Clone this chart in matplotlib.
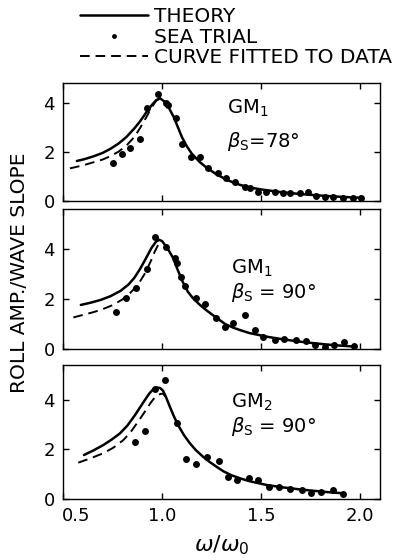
import matplotlib
matplotlib.use("Agg")
import matplotlib.pyplot as plt
import matplotlib.transforms as mtransforms

plt.rcParams['font.family'] = ['DejaVu Sans']
plt.rcParams['mathtext.fontset'] = 'dejavusans'

# ---------------- data ----------------
# Panel 1: GM1, beta_s = 78 deg
p1_theory_x = [0.57, 0.61, 0.65, 0.70, 0.74, 0.78, 0.82, 0.86, 0.89, 0.92, 0.95, 0.97, 0.99, 1.01, 1.035, 1.06, 1.08,
               1.10, 1.125, 1.15, 1.19, 1.22, 1.27, 1.32, 1.36, 1.40, 1.45, 1.50, 1.60, 1.70, 1.80, 1.90, 2.00]
p1_theory_y = [1.62, 1.70, 1.80, 1.95, 2.12, 2.33, 2.60, 2.95, 3.25, 3.60, 3.92, 4.10, 4.18, 4.06, 3.78, 3.40, 3.00,
               2.60, 2.22, 1.92, 1.58, 1.38, 1.10, 0.88, 0.74, 0.63, 0.53, 0.46, 0.35, 0.27, 0.21, 0.16, 0.12]
p1_fit_x = [0.535, 0.60, 0.65, 0.70, 0.74, 0.78, 0.82, 0.86, 0.89, 0.92, 0.945, 0.97, 0.99, 1.01]
p1_fit_y = [1.32, 1.44, 1.56, 1.68, 1.82, 2.00, 2.25, 2.60, 2.98, 3.40, 3.78, 4.08, 4.18, 4.06]
p1_sea_x = [0.75, 0.796, 0.838, 0.888, 0.925, 0.977, 1.02, 1.03, 1.07, 1.10, 1.148, 1.19, 1.232, 1.282, 1.325,
            1.367, 1.417, 1.442, 1.484, 1.526, 1.568, 1.61, 1.644, 1.694, 1.736, 1.778, 1.82, 1.862, 1.912, 1.962, 2.005]
p1_sea_y = [1.53, 1.91, 2.14, 2.5, 3.79, 4.36, 4.0, 3.9, 3.36, 2.31, 1.8, 1.77, 1.32, 1.12, 0.91,
            0.78, 0.57, 0.51, 0.37, 0.37, 0.34, 0.33, 0.3, 0.3, 0.37, 0.19, 0.16, 0.16, 0.13, 0.13, 0.13]

# Panel 2: GM1, beta_s = 90 deg
p2_theory_x = [0.59, 0.64, 0.69, 0.74, 0.79, 0.83, 0.86, 0.89, 0.92, 0.947, 0.97, 0.985, 1.0, 1.03, 1.056, 1.08,
               1.106, 1.13, 1.156, 1.19, 1.22, 1.274, 1.32, 1.36, 1.40, 1.44, 1.53, 1.60, 1.69, 1.78, 1.86, 1.98]
p2_theory_y = [1.77, 1.86, 1.97, 2.12, 2.33, 2.58, 2.85, 3.22, 3.65, 4.05, 4.30, 4.37, 4.32, 4.00, 3.64, 3.15,
               2.66, 2.30, 2.04, 1.78, 1.58, 1.26, 1.00, 0.86, 0.75, 0.65, 0.50, 0.41, 0.31, 0.23, 0.17, 0.10]
p2_fit_x = [0.552, 0.60, 0.653, 0.70, 0.753, 0.80, 0.838, 0.865, 0.888, 0.91, 0.93, 0.948, 0.963, 0.977, 0.99, 1.0]
p2_fit_y = [1.27, 1.37, 1.48, 1.60, 1.77, 1.99, 2.24, 2.46, 2.70, 2.98, 3.30, 3.60, 3.90, 4.12, 4.27, 4.30]
p2_sea_x = [0.77, 0.817, 0.868, 0.922, 0.966, 1.02, 1.064, 1.073, 1.098, 1.115, 1.173, 1.215, 1.274, 1.316, 1.36,
            1.42, 1.467, 1.509, 1.568, 1.618, 1.677, 1.727, 1.77, 1.82, 1.87, 1.92, 1.971]
p2_sea_y = [1.48, 2.06, 2.44, 3.2, 4.49, 4.09, 3.64, 3.44, 2.9, 2.53, 2.04, 1.8, 1.24, 0.9, 1.04,
            1.38, 0.75, 0.5, 0.37, 0.4, 0.37, 0.32, 0.18, 0.1, 0.16, 0.28, 0.12]

# Panel 3: GM2, beta_s = 90 deg
p3_theory_x = [0.606, 0.65, 0.703, 0.745, 0.787, 0.825, 0.863, 0.89, 0.913, 0.935, 0.955, 0.975, 0.99, 1.005, 1.02,
               1.039, 1.06, 1.081, 1.11, 1.14, 1.17, 1.207, 1.24, 1.274, 1.31, 1.35, 1.40, 1.442, 1.526, 1.61,
               1.694, 1.78, 1.862, 1.92]
p3_theory_y = [1.76, 1.93, 2.16, 2.38, 2.63, 2.95, 3.37, 3.70, 3.98, 4.24, 4.42, 4.49, 4.47, 4.36, 4.10,
               3.72, 3.32, 2.97, 2.57, 2.24, 1.96, 1.69, 1.48, 1.29, 1.10, 0.94, 0.80, 0.70, 0.55, 0.45,
               0.37, 0.30, 0.24, 0.21]
p3_fit_x = [0.577, 0.64, 0.703, 0.755, 0.804, 0.84, 0.871, 0.897, 0.922, 0.945, 0.963, 0.978, 0.992, 1.005, 1.02]
p3_fit_y = [1.45, 1.63, 1.83, 2.06, 2.36, 2.67, 3.02, 3.32, 3.62, 3.90, 4.08, 4.18, 4.23, 4.24, 4.10]
p3_sea_x = [0.863, 0.913, 0.963, 1.017, 1.073, 1.123, 1.173, 1.227, 1.286, 1.333, 1.38, 1.437, 1.484, 1.54,
            1.59, 1.644, 1.706, 1.753, 1.80, 1.862, 1.912]
p3_sea_y = [2.3, 2.73, 4.41, 4.8, 3.04, 1.59, 1.39, 1.66, 1.53, 0.88, 0.74, 0.82, 0.74, 0.48,
            0.46, 0.39, 0.36, 0.23, 0.27, 0.33, 0.2]

panel_gm = [r'GM$_1$', r'GM$_1$', r'GM$_2$']
panel_beta = [r'$\beta_{\rm S}$=78°', r'$\beta_{\rm S}$ = 90°', r'$\beta_{\rm S}$ = 90°']
panel_ylim_top = [4.8, 5.6, 5.4]
x_ticks = [0.5, 1.0, 1.5, 2.0]
x_ticklabels = ['0.5', '1.0', '1.5', '2.0']
y_ticks = [0, 2, 4]
legend_labels = ['THEORY', 'SEA TRIAL', 'CURVE FITTED TO DATA']

panels = [
    (p1_theory_x, p1_theory_y, p1_fit_x, p1_fit_y, p1_sea_x, p1_sea_y),
    (p2_theory_x, p2_theory_y, p2_fit_x, p2_fit_y, p2_sea_x, p2_sea_y),
    (p3_theory_x, p3_theory_y, p3_fit_x, p3_fit_y, p3_sea_x, p3_sea_y),
]

# ---------------- layout ----------------
fig = plt.figure(figsize=(3.93, 5.6), dpi=100)
left, width = 0.1603, 0.8066
positions = [(0.6416, 0.2100), (0.3763, 0.2505), (0.1098, 0.2384)]
text_pos = [((1.33, 3.78), (1.33, 2.4)), ((1.35, 3.25), (1.35, 2.25)), ((1.35, 3.9), (1.35, 2.9))]

handles = None
for i, (pos, data) in enumerate(zip(positions, panels)):
    tx, ty, fx, fy, sx, sy = data
    ax = fig.add_axes([left, pos[0], width, pos[1]])
    h1, = ax.plot(tx, ty, color='black', lw=1.8, solid_joinstyle='round', solid_capstyle='round')
    h3, = ax.plot(fx, fy, color='black', lw=1.4, dashes=(5, 3))
    h2, = ax.plot(sx, sy, 'o', color='black', ms=5, mew=0)
    if handles is None:
        handles = [h1, h2, h3]
    ax.set_xlim(0.5, 2.1)
    ax.set_ylim(0, panel_ylim_top[i])
    ax.set_xticks(x_ticks)
    ax.set_yticks(y_ticks)
    ax.tick_params(direction='in', top=True, right=True, length=4, width=1,
                   labelsize=13, pad=6)
    for sp in ax.spines.values():
        sp.set_linewidth(1.0)
    if i < 2:
        ax.set_xticklabels([])
    else:
        ax.set_xticklabels(x_ticklabels)
        lbl = ax.get_xticklabels()[0]
        lbl.set_transform(lbl.get_transform() + mtransforms.ScaledTranslation(13 / 100, 0, fig.dpi_scale_trans))
    (gx, gy), (bx, by) = text_pos[i]
    ax.text(gx, gy, panel_gm[i], fontsize=14, va='center', ha='left')
    ax.text(bx, by, panel_beta[i], fontsize=14, va='center', ha='left')

fig.text(20 / 393, 1 - 273 / 560, 'ROLL AMP./WAVE SLOPE', rotation=90,
         ha='center', va='center', fontsize=14.5)
fig.text(222 / 393, 1 - 545 / 560, r'$\omega/\omega_0$', ha='center', va='center', fontsize=16)

leg = fig.legend(handles, legend_labels, loc='upper left',
                 bbox_to_anchor=(80 / 393, 1 - 7 / 560), frameon=False,
                 fontsize=14.5, handlelength=3.4, handletextpad=0.25,
                 labelspacing=0.08, borderpad=0, borderaxespad=0)
leg.legend_handles[1].set_markersize(3.5)

fig.savefig('out.png', dpi=100)
